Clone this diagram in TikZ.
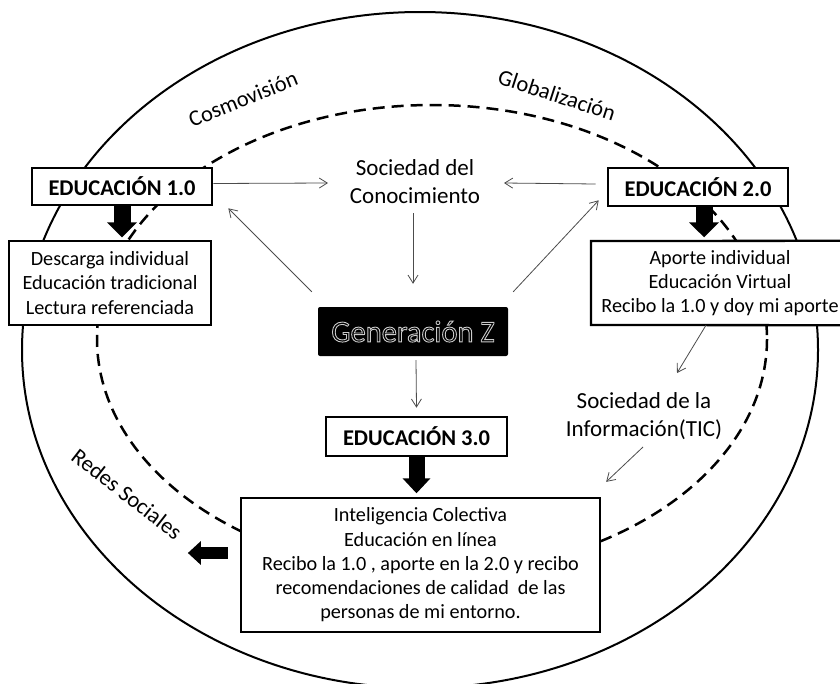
\documentclass[tikz,border=0pt]{standalone}
\usepackage{fontspec}
\setmainfont{Carlito}
\usetikzlibrary{arrows.meta}
\begin{document}
\begin{tikzpicture}[x=1pt,y=-1pt,
  txt/.style={font=\fontsize{20.2}{24.3}\selectfont, align=center, inner sep=0pt},
  ring/.style={font=\fontsize{22.5}{26}\selectfont, inner sep=0pt},
  lbl/.style={font=\fontsize{23}{28}\selectfont, align=center, inner sep=0pt},
  edubox/.style={draw, line width=2.6pt, fill=white, inner sep=0pt, font=\fontsize{22.5}{24}\selectfont\bfseries},
  textbox/.style={draw, line width=2.3pt, fill=white, inner sep=0pt, txt},
  thinarrow/.style={draw=black!70, line width=0.8pt, -{Straight Barb[length=8pt,width=10pt]}},
  blockarrow/.style={draw=black, line width=17pt, -{Triangle[length=15pt,width=29pt]}},
]
\useasboundingbox (0,0) rectangle (840,683);
\fill[white] (0,0) rectangle (840,683);
% ellipses
\draw[line width=2pt] (420,350) ellipse [x radius=398, y radius=338];
\draw[line width=2.5pt, dash pattern=on 12pt off 7pt] (432,339) ellipse [x radius=335, y radius=234];
% ring labels
\node[ring, rotate=22] (cosmo) at (243,99) {Cosmovisión};
\node[ring, rotate=-18] (glob) at (557,95) {Globalización};
\node[ring, rotate=-38] (redes) at (127,494) {Redes Sociales};
% boxes
\node[edubox, minimum width=180pt, minimum height=37pt] (e1) at (122,186.5) {EDUCACIÓN 1.0};
\node[edubox, minimum width=180pt, minimum height=38pt] (e2) at (698,187) {EDUCACIÓN 2.0};
\node[edubox, minimum width=181pt, minimum height=39pt] (e3) at (416.5,436.5) {EDUCACIÓN 3.0};
\node[textbox, minimum width=202pt, minimum height=84pt] (d1) at (110,283) {Descarga individual\\Educación tradicional\\Lectura referenciada};
\fill[white] (591,241) rectangle (840,325);
\node[txt, minimum height=84pt] (a2) at (720,283) {Aporte individual\\Educación Virtual\\Recibo la 1.0 y doy mi aporte};
\coordinate (rc) at (840,0);
\draw[line width=2.3pt] (a2.north west -| rc) -- (591,241) -- (591,325) -- (a2.south west -| rc);
\node[textbox, minimum width=359pt, minimum height=134pt] (i3) at (420.5,565) {Inteligencia Colectiva\\Educación en línea\\Recibo la 1.0 , aporte en la 2.0 y recibo\\recomendaciones de calidad \ de las\\personas de mi entorno.};
% free labels
\node[lbl] (soc) at (415,182) {Sociedad del\\Conocimiento};
\node[lbl] (tic) at (644,416) {Sociedad de la\\Información(TIC)};
% Generacion Z
\node[fill=black, rounded corners=2pt, minimum width=190pt, minimum height=49pt, inner sep=0pt,
      font=\fontsize{30.5}{32}\selectfont] (gz) at (413,331.5)
  {\special{pdf:literal direct 1 Tr 0.9 w 0.8 G}Generación Z\special{pdf:literal direct 0 Tr 0 G}};
% block arrows
\draw[blockarrow] (e1.south) -- ++(0,31);
\draw[blockarrow] ([xshift=6pt]e2.south) -- ++(0,30);
\draw[blockarrow, line width=16pt, -{Triangle[length=15pt,width=27pt]}] (e3.south) -- ++(0,36);
\draw[blockarrow, line width=12pt, -{Triangle[length=13pt,width=23pt]}] ([xshift=-12pt,yshift=12pt]i3.west) -- ++(-40,0);
% thin arrows
\draw[thinarrow] ([yshift=3pt]e1.east) -- (328,183);
\draw[thinarrow] ([xshift=-11pt,yshift=3pt]e2.west) -- (504,183);
\draw[thinarrow] ([shift={(-6pt,15pt)}]gz.north west) -- ([shift={(15pt,-2pt)}]e1.south east);
\draw[thinarrow] ([shift={(5pt,15pt)}]gz.north east) -- ([shift={(-8pt,7pt)}]e2.south west);
\draw[thinarrow] (413,213) -- ([yshift=23pt]gz.north);
\draw[thinarrow] ([xshift=3pt,yshift=-4pt]gz.south) -- ([yshift=8pt]e3.north);
\draw[thinarrow] ([xshift=-14pt]a2.south) -- (677,373);
\draw[thinarrow] (643,447) -- ([shift={(5pt,15pt)}]i3.north east);
\end{tikzpicture}
\end{document}
